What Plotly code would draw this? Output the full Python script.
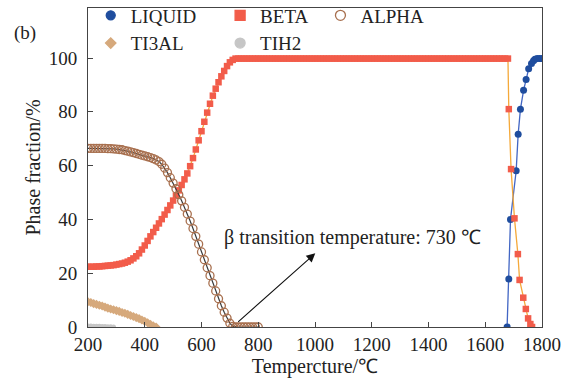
import plotly.graph_objects as go

FONT = "Liberation Serif, Times New Roman, serif"

# ---------------- data ----------------
# low-temperature grid (10 °C)
T_LOW = [200, 210, 220, 230, 240, 250, 260, 270, 280, 290,
         300, 310, 320, 330, 340, 350, 360, 370, 380, 390,
         400, 410, 420, 430, 440, 450, 460, 470, 480, 490,
         500, 510, 520, 530, 540, 550, 560, 570, 580, 590,
         600, 610, 620, 630, 640, 650, 660, 670, 680, 690,
         700, 710, 720]

BETA_LOW = [22.4, 22.4, 22.4, 22.5, 22.5, 22.6, 22.7, 22.8, 22.9, 23.0,
            23.2, 23.4, 23.6, 23.9, 24.3, 24.8, 25.5, 26.3, 27.4, 28.8,
            30.3, 32.0, 33.7, 35.3, 36.9, 38.5, 40.1, 41.8, 43.5, 45.2,
            47.0, 48.9, 50.8, 52.8, 54.9, 57.1, 59.8, 62.8, 66.0, 69.4,
            72.8, 76.3, 79.7, 83.0, 86.0, 88.6, 91.0, 93.2, 95.2, 97.0,
            98.4, 99.3, 99.8]

# BETA plateau (730-1680 °C) then melting
T_BETA_PLATEAU = list(range(730, 1681, 10))
BETA_PLATEAU_VALUE = 99.8
T_BETA_MELT = [1683, 1691, 1703, 1715, 1721, 1734, 1743, 1751, 1759, 1765]
BETA_MELT = [81.0, 58.7, 40.4, 27.1, 17.5, 10.9, 6.7, 3.2, 1.1, 0.0]

T_LIQUID = [1677, 1683, 1689, 1709, 1716, 1724, 1735, 1744, 1753, 1763,
            1770, 1775, 1783, 1792, 1800]
LIQUID = [0.0, 17.8, 40.0, 58.1, 71.7, 81.0, 88.0, 92.0, 96.0, 98.0,
          99.0, 99.5, 99.8, 99.8, 99.8]

T_ALPHA = [200, 210, 220, 230, 240, 250, 260, 270, 280, 290,
           300, 310, 320, 330, 340, 350, 360, 370, 380, 390,
           400, 410, 420, 430, 440, 450, 460, 470, 480, 490,
           500, 510, 520, 530, 540, 550, 560, 570, 580, 590,
           600, 610, 620, 630, 640, 650, 660, 670, 680, 690,
           700, 710, 720, 730, 740, 750, 760, 770, 780, 790, 800]
ALPHA = [66.4, 66.4, 66.4, 66.4, 66.4, 66.4, 66.4, 66.3, 66.3, 66.2,
         66.1, 66.0, 65.9, 65.6, 65.4, 65.1, 64.8, 64.5, 64.2, 63.9,
         63.6, 63.3, 63.0, 62.6, 62.1, 61.5, 60.5, 59.1, 57.4, 55.5,
         53.5, 51.4, 49.2, 46.9, 44.5, 42.0, 39.4, 36.6, 33.7, 30.8,
         27.9, 25.0, 22.0, 19.1, 16.3, 13.4, 10.5, 7.9, 5.5, 3.3,
         1.4, 0.2, 0.0, 0.0, 0.0, 0.0, 0.0, 0.0, 0.0, 0.0, 0.0]

T_TI3AL = [200, 210, 220, 230, 240, 250, 260, 270, 280, 290,
           300, 310, 320, 330, 340, 350, 360, 370, 380, 390,
           400, 410, 420, 430, 440]
TI3AL = [9.4, 9.1, 8.7, 8.4, 8.1, 7.8, 7.4, 7.0, 6.7, 6.4,
         6.1, 5.8, 5.4, 5.1, 4.7, 4.3, 3.9, 3.5, 3.1, 2.6,
         2.1, 1.6, 1.0, 0.4, 0.0]

T_TIH2 = [200, 210, 220, 230, 240, 250, 260, 270, 280, 290]
TIH2 = [0.4, 0.35, 0.3, 0.3, 0.25, 0.2, 0.15, 0.1, 0.05, 0.0]

X_TICKS = [200, 400, 600, 800, 1000, 1200, 1400, 1600, 1800]
Y_TICKS = [0, 20, 40, 60, 80, 100]

# ---------------- colours ----------------
C_LIQ_M, C_LIQ_L = "#1f4d9e", "#4266c4"
C_BETA_M, C_BETA_L = "#f25c4a", "#f5a93a"
C_ALPHA_M, C_ALPHA_L = "#a8704f", "#3a3a3a"
C_TI3AL = "#d6a97c"
C_TIH2 = "#c6c6c6"

T_BETA = T_LOW + T_BETA_PLATEAU + T_BETA_MELT
BETA = BETA_LOW + [BETA_PLATEAU_VALUE] * len(T_BETA_PLATEAU) + BETA_MELT

fig = go.Figure()

fig.add_trace(go.Scatter(x=T_LIQUID, y=LIQUID, mode="lines+markers", showlegend=False,
                         line=dict(color=C_LIQ_L, width=1.3),
                         marker=dict(symbol="circle", size=7, color=C_LIQ_M)))
fig.add_trace(go.Scatter(x=T_BETA, y=BETA, mode="lines+markers", showlegend=False,
                         line=dict(color=C_BETA_L, width=1.3),
                         marker=dict(symbol="square", size=6.5, color=C_BETA_M)))
fig.add_trace(go.Scatter(x=T_ALPHA, y=ALPHA, mode="lines+markers", showlegend=False,
                         line=dict(color=C_ALPHA_L, width=1.2),
                         marker=dict(symbol="circle-open", size=8, color=C_ALPHA_M,
                                     line=dict(width=1.3, color=C_ALPHA_M))))
fig.add_trace(go.Scatter(x=T_TI3AL, y=TI3AL, mode="lines+markers", showlegend=False,
                         line=dict(color=C_TI3AL, width=2),
                         marker=dict(symbol="diamond", size=7, color=C_TI3AL)))
fig.add_trace(go.Scatter(x=T_TIH2, y=TIH2, mode="lines+markers", showlegend=False,
                         line=dict(color=C_TIH2, width=2),
                         marker=dict(symbol="circle", size=5, color=C_TIH2)))

# legend entries (marker-only symbols like the reference)
leg = [("LIQUID", "circle", C_LIQ_M, 9, "legend"),
       ("TI3AL", "diamond", C_TI3AL, 8, "legend"),
       ("BETA", "square", C_BETA_M, 10, "legend2"),
       ("TIH2", "circle", C_TIH2, 10, "legend2"),
       ("ALPHA", "circle-open", C_ALPHA_M, 10, "legend3")]
for name, sym, col, sz, lg in leg:
    fig.add_trace(go.Scatter(x=[None], y=[None], mode="markers", name=name, legend=lg,
                             marker=dict(symbol=sym, size=sz, color=col,
                                         line=dict(width=1.3, color=col))))


def leg_cfg(x):
    return dict(orientation="v", yanchor="top", y=1.036, xanchor="left", x=x,
                bgcolor="rgba(0,0,0,0)",
                font=dict(family=FONT, size=19, color="#222"),
                tracegroupgap=0, itemwidth=30)


fig.update_layout(
    width=565, height=378,
    margin=dict(l=88, r=23, t=8, b=51, autoexpand=False),
    paper_bgcolor="white", plot_bgcolor="white",
    font=dict(family=FONT, size=19, color="#222"),
    legend=leg_cfg(0.006),
    legend2=leg_cfg(0.291),
    legend3=leg_cfg(0.512),
    xaxis=dict(range=[200, 1800], tickvals=X_TICKS, ticks="inside", ticklen=5,
               tickcolor="#444", showline=True, linecolor="#444", linewidth=1,
               mirror=True, showgrid=False, zeroline=False,
               tickfont=dict(family=FONT, size=19), ticklabelstandoff=0,
               title=dict(text="Tempercture/℃", font=dict(family=FONT, size=20), standoff=9)),
    yaxis=dict(range=[0, 118.6], tickvals=Y_TICKS, ticks="inside", ticklen=5,
               tickcolor="#444", showline=True, linecolor="#444", linewidth=1,
               mirror=True, showgrid=False, zeroline=False,
               tickfont=dict(family=FONT, size=19), ticklabelstandoff=6,
               title=dict(text="Phase fraction/%", font=dict(family=FONT, size=20), standoff=2)),
    annotations=[
        dict(text="(b)", xref="paper", yref="paper", x=-0.168, y=0.922,
             xanchor="left", yanchor="middle", showarrow=False,
             font=dict(family=FONT, size=19)),
        dict(text="β transition temperature: 730 ℃", x=673, y=33.1,
             xref="x", yref="y", xanchor="left", yanchor="middle",
             showarrow=False, font=dict(family=FONT, size=20)),
        dict(x=1001, y=27.4, ax=724, ay=1.4, xref="x", yref="y",
             axref="x", ayref="y", text="", showarrow=True,
             arrowhead=2, arrowsize=1.6, arrowwidth=1.1, arrowcolor="#111"),
    ],
)

fig.write_html("out.html")
